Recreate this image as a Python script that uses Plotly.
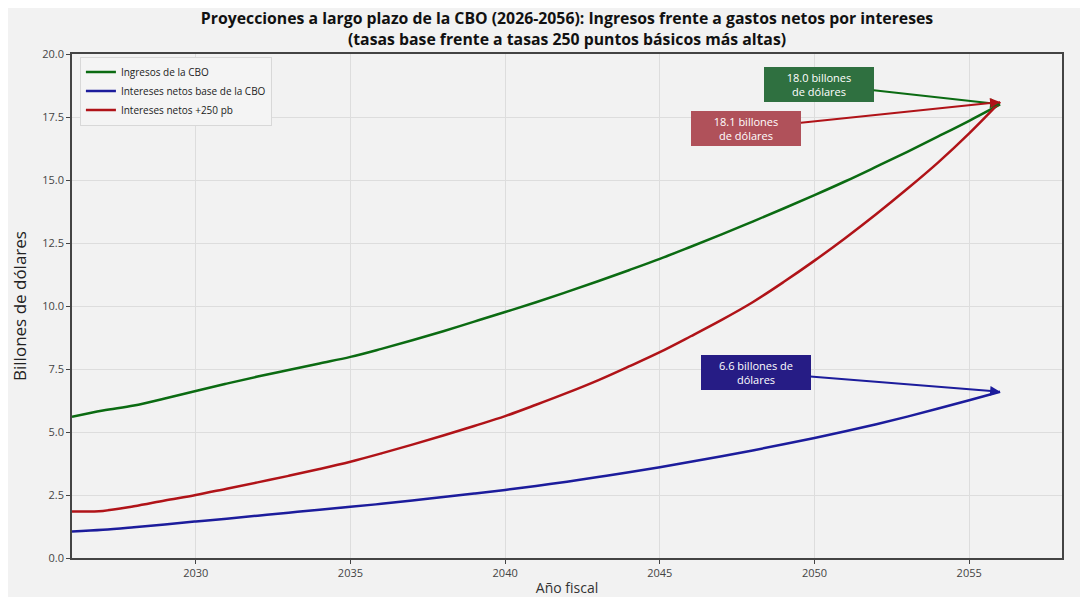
import plotly.graph_objects as go

years = list(range(2026, 2057))

ingresos = [5.60, 5.85, 6.05, 6.33, 6.63, 6.92, 7.20, 7.46, 7.72, 7.98,
            8.30, 8.64, 9.00, 9.38, 9.76, 10.15, 10.56, 10.98, 11.42, 11.87,
            12.35, 12.84, 13.35, 13.87, 14.40, 14.95, 15.53, 16.12, 16.73, 17.35,
            18.00]

intereses_base = [1.05, 1.12, 1.22, 1.33, 1.45, 1.56, 1.68, 1.80, 1.91, 2.03,
                  2.15, 2.28, 2.42, 2.56, 2.70, 2.86, 3.03, 3.21, 3.40, 3.60,
                  3.82, 4.04, 4.27, 4.51, 4.76, 5.03, 5.31, 5.61, 5.93, 6.26,
                  6.60]

intereses_250 = [1.85, 1.87, 2.05, 2.28, 2.50, 2.75, 3.00, 3.26, 3.53, 3.82,
                 4.15, 4.50, 4.86, 5.24, 5.63, 6.08, 6.55, 7.05, 7.60, 8.17,
                 8.80, 9.45, 10.15, 10.95, 11.80, 12.70, 13.65, 14.65, 15.70, 16.85,
                 18.10]

series_names = ['Ingresos de la CBO', 'Intereses netos base de la CBO', 'Intereses netos +250 pb']
series_colors = ['#0b6b12', '#1c1c9c', '#b01318']

# callouts: text, box position (year, value), target value at 2056, box colour
callout_texts = ['18.0 billones<br>de dólares', '18.1 billones<br>de dólares', '6.6 billones de<br>dólares']
callout_box_x = [2050.15, 2047.8, 2048.1]
callout_box_y = [18.8, 17.05, 7.38]
callout_tip_y = [ingresos[-1], intereses_250[-1], intereses_base[-1]]
callout_bg = ['#2f7040', '#b0515a', '#261c85']
callout_line = ['#0b6b12', '#b01318', '#1c1c9c']

fig = go.Figure()
for name, vals, col in zip(series_names, [ingresos, intereses_base, intereses_250], series_colors):
    fig.add_trace(go.Scatter(x=years, y=vals, mode='lines', name=name,
                             line=dict(color=col, width=2.5, shape='spline')))

for txt, bx, by, ty, bg, lc in zip(callout_texts, callout_box_x, callout_box_y,
                                   callout_tip_y, callout_bg, callout_line):
    fig.add_annotation(x=years[-1], y=ty, xref='x', yref='y',
                       ax=bx, ay=by, axref='x', ayref='y',
                       text=txt, showarrow=True, arrowhead=2, arrowsize=1,
                       arrowwidth=2, arrowcolor=lc,
                       bgcolor=bg, bordercolor=bg, borderpad=2,
                       font=dict(color='white', size=11, family='Open Sans'),
                       width=104, align='center')

# the page body adds an 8px margin, so the figure is a bit smaller than the window
W, H = 1080, 589

fig.update_layout(
    width=W, height=H,
    paper_bgcolor='#f2f2f2', plot_bgcolor='#f2f2f2',
    margin=dict(l=64, r=26, t=46, b=39),
    font=dict(family='Open Sans', color='#333333'),
    title=dict(text='<b>Proyecciones a largo plazo de la CBO (2026-2056): Ingresos frente a gastos netos por intereses<br>(tasas base frente a tasas 250 puntos básicos más altas)</b>',
               x=0.5, xanchor='center', xref='paper', yref='container',
               y=1 - 16 / H, yanchor='middle',
               font=dict(size=15.8, color='#111111', family='Open Sans')),
    showlegend=True,
    legend=dict(x=0.008, y=0.995, xanchor='left', yanchor='top',
                bgcolor='#f4f4f4', bordercolor='#d8d8d8', borderwidth=1,
                font=dict(size=10, color='#222222', family='Open Sans'),
                tracegroupgap=0, itemwidth=30),
    xaxis=dict(range=[2026, 2058], tickvals=[2030, 2035, 2040, 2045, 2050, 2055],
               showgrid=True, gridcolor='#dddddd', zeroline=False, automargin=False,
               showline=True, linecolor='#444444', linewidth=1.5, mirror=True,
               ticks='outside', ticklen=4, tickcolor='#444444',
               tickfont=dict(size=11, color='#444444'),
               title=dict(text='Año fiscal', standoff=4, font=dict(size=14, color='#333333'))),
    yaxis=dict(range=[0, 20], tickvals=[0, 2.5, 5, 7.5, 10, 12.5, 15, 17.5, 20],
               tickformat='.1f',
               showgrid=True, gridcolor='#dddddd', zeroline=False, automargin=False,
               showline=True, linecolor='#444444', linewidth=1.5, mirror=True,
               ticks='outside', ticklen=4, tickcolor='#444444',
               tickfont=dict(size=11, color='#444444'),
               title=dict(text='Billones de dólares', standoff=14, font=dict(size=17, color='#222222'))),
)

fig.write_html("out.html")
